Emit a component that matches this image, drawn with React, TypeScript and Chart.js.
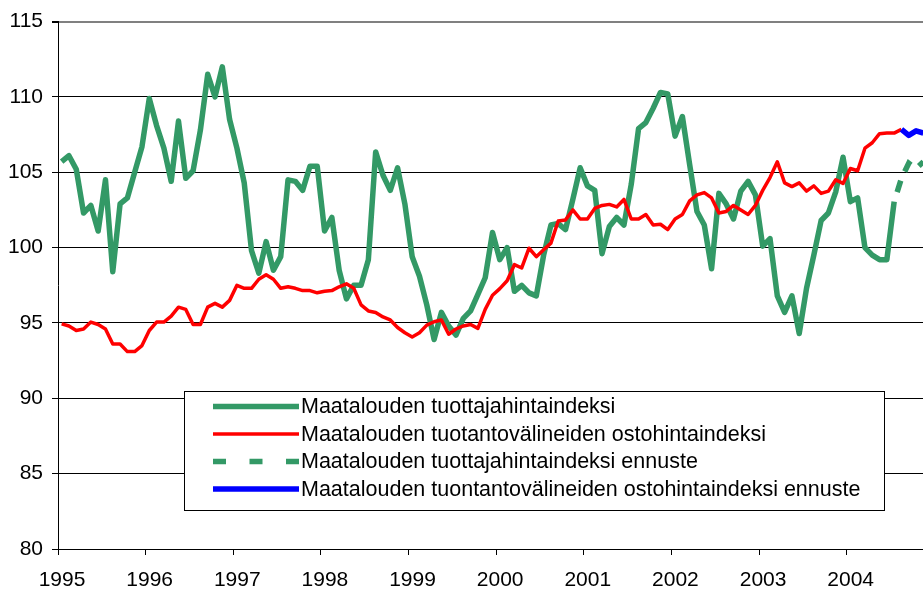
import React, { useEffect, useRef } from "react";
import { Chart, registerables } from "chart.js";

Chart.register(...registerables);

// Year tick labels (one every 12 months, starting Jan 1995)
const yearLabels = ["1995", "1996", "1997", "1998", "1999", "2000", "2001", "2002", "2003", "2004"];

// Y axis range / step
const yMin = 80;
const yMax = 115;
const yStep = 5;

// Monthly values from January 1995
const producerPriceIndex = [
  105.7, 106.1, 105.2, 102.3, 102.8, 101.1, 104.5, 98.4, 102.9, 103.3, 105.0, 106.7,
  109.9, 108.1, 106.6, 104.4, 108.4, 104.6, 105.1, 107.8, 111.5, 110.0, 112.0, 108.5,
  106.6, 104.3, 99.8, 98.3, 100.4, 98.5, 99.4, 104.5, 104.4, 103.8, 105.4, 105.4,
  101.1, 102.0, 98.5, 96.6, 97.5, 97.5, 99.2, 106.35, 104.8, 103.8, 105.3, 102.9,
  99.4, 98.1, 96.2, 93.9, 95.7, 94.8, 94.2, 95.3, 95.8, 96.9, 98.0, 101.0,
  99.2, 100.0, 97.1, 97.5, 97.0, 96.8, 99.5, 101.5, 101.6, 101.2, 103.2, 105.3,
  104.1, 103.8, 99.6, 101.4, 102.0, 101.5, 104.2, 107.9, 108.3, 109.25, 110.3, 110.2,
  107.4, 108.7, 105.5, 102.4, 101.5, 98.6, 103.6, 102.9, 101.9, 103.75, 104.4, 103.5,
  100.1, 100.6, 96.8, 95.7, 96.8, 94.3, 97.3, 99.5, 101.8, 102.3, 103.7, 106.0,
  103.05, 103.3, 100.0, 99.5, 99.2, 99.2, 103.05,
];

const inputPriceIndex = [
  94.94, 94.8, 94.5, 94.6, 95.06, 94.9, 94.6, 93.6, 93.6, 93.1, 93.1, 93.5,
  94.5, 95.06, 95.06, 95.45, 96.05, 95.9, 94.9, 94.9, 96.05, 96.3, 96.05, 96.5,
  97.5, 97.3, 97.3, 97.9, 98.2, 97.9, 97.3, 97.4, 97.3, 97.15, 97.15, 97.0,
  97.1, 97.15, 97.4, 97.6, 97.3, 96.2, 95.8, 95.7, 95.4, 95.2, 94.7, 94.35,
  94.07, 94.35, 94.86, 95.08, 95.2, 94.25, 94.6, 94.8, 94.9, 94.64, 95.9, 96.84,
  97.28, 97.8, 98.87, 98.65, 99.96, 99.4, 99.86, 100.3, 101.77, 101.84, 102.5, 101.9,
  101.9, 102.6, 102.8, 102.87, 102.7, 103.2, 101.9, 101.9, 102.2, 101.5, 101.55, 101.2,
  101.9, 102.2, 103.1, 103.5, 103.65, 103.3, 102.3, 102.4, 102.8, 102.5, 102.2, 102.8,
  103.8, 104.65, 105.7, 104.3, 104.05, 104.3, 103.75, 104.1, 103.6, 103.75, 104.5, 104.26,
  105.25, 105.1, 106.6, 106.96, 107.56, 107.6, 107.6, 107.85,
];

// Forecasts (month index of first value, then values)
const producerForecastStart = 114;
const producerForecast = [103.05, 104.6, 105.6, 105.25, 105.7];
const inputForecastStart = 115;
const inputForecast = [107.85, 107.45, 107.75, 107.6];

const seriesLabels = [
  "Maatalouden tuottajahintaindeksi",
  "Maatalouden tuotantovälineiden ostohintaindeksi",
  "Maatalouden tuottajahintaindeksi ennuste",
  "Maatalouden tuontantovälineiden ostohintaindeksi ennuste",
];

const GREEN = "#339966";
const RED = "#FF0000";
const BLUE = "#0000FF";
const FONT = "'Liberation Sans', Arial, Helvetica, sans-serif";

const toPoints = (vals: number[], start = 0) => vals.map((v, i) => ({ x: start + i, y: v }));

const boxLegend = {
  id: "boxLegend",
  afterDraw(chart: any) {
    const ctx = chart.ctx as CanvasRenderingContext2D;
    ctx.save();
    const bx = 184.5;
    const by = 391.5;
    const bw = 700;
    const bh = 119;
    ctx.fillStyle = "#ffffff";
    ctx.fillRect(bx, by, bw, bh);
    ctx.strokeStyle = "#000000";
    ctx.lineWidth = 1;
    ctx.strokeRect(bx, by, bw, bh);
    const rowStart = 406.5;
    const rowStep = 27.5;
    const lineX0 = 213;
    const lineX1 = 299;
    chart.data.datasets.forEach((ds: any, i: number) => {
      const y = rowStart + i * rowStep;
      ctx.save();
      ctx.strokeStyle = ds.borderColor;
      ctx.lineWidth = ds.borderWidth;
      ctx.lineCap = "butt";
      ctx.setLineDash(ds.borderDash && ds.borderDash.length ? [13, 23.5] : []);
      ctx.beginPath();
      ctx.moveTo(lineX0, y);
      ctx.lineTo(lineX1, y);
      ctx.stroke();
      ctx.restore();
      ctx.fillStyle = "#000000";
      ctx.font = `21.5px ${FONT}`;
      ctx.textBaseline = "middle";
      ctx.textAlign = "left";
      ctx.fillText(ds.label, 301, y + 1);
    });
    ctx.restore();
  },
};

export default function App() {
  const canvasRef = useRef<HTMLCanvasElement | null>(null);

  useEffect(() => {
    const canvas = canvasRef.current;
    if (!canvas) return;
    const chart = new Chart(canvas, {
      type: "line",
      data: {
        datasets: [
          {
            label: seriesLabels[0],
            data: toPoints(producerPriceIndex),
            borderColor: GREEN,
            backgroundColor: GREEN,
            borderWidth: 5.5,
            pointRadius: 0,
            tension: 0,
            borderJoinStyle: "round",
            order: 4,
          },
          {
            label: seriesLabels[1],
            data: toPoints(inputPriceIndex),
            borderColor: RED,
            backgroundColor: RED,
            borderWidth: 3.5,
            pointRadius: 0,
            tension: 0,
            borderJoinStyle: "round",
            order: 3,
          },
          {
            label: seriesLabels[2],
            data: toPoints(producerForecast, producerForecastStart),
            borderColor: GREEN,
            backgroundColor: GREEN,
            borderWidth: 5.5,
            borderDash: [12, 10],
            borderDashOffset: 12,
            pointRadius: 0,
            tension: 0,
            order: 2,
          },
          {
            label: seriesLabels[3],
            data: toPoints(inputForecast, inputForecastStart),
            borderColor: BLUE,
            backgroundColor: BLUE,
            borderWidth: 5.5,
            pointRadius: 0,
            tension: 0,
            borderJoinStyle: "round",
            order: 1,
          },
        ],
      },
      options: {
        responsive: false,
        maintainAspectRatio: false,
        animation: false,
        devicePixelRatio: 1,
        layout: { padding: { top: 19, left: 0, right: 0, bottom: 0 } },
        plugins: {
          legend: { display: false },
          tooltip: { enabled: false },
          title: { display: false },
        },
        scales: {
          x: {
            type: "linear",
            min: -0.5,
            max: 117.95,
            afterBuildTicks: (scale: any) => {
              scale.ticks = yearLabels.map((_, k) => ({ value: -0.5 + 12 * k }));
            },
            afterFit: (scale: any) => {
              scale.height = 43;
            },
            ticks: {
              autoSkip: false,
              maxRotation: 0,
              minRotation: 0,
              padding: 13,
              labelOffset: 4,
              color: "#000000",
              font: { family: FONT, size: 21 },
              callback: (_v: any, index: number) => yearLabels[index],
            },
            grid: {
              drawOnChartArea: false,
              drawTicks: true,
              tickLength: 6,
              color: "#000000",
              tickColor: "#000000",
            },
            border: { display: true, color: "#000000", width: 1 },
          },
          y: {
            type: "linear",
            min: yMin,
            max: yMax,
            afterFit: (scale: any) => {
              scale.width = 58;
            },
            ticks: {
              stepSize: yStep,
              padding: 9,
              color: "#000000",
              font: { family: FONT, size: 21 },
            },
            grid: {
              drawTicks: true,
              tickLength: 6,
              tickColor: "#000000",
              color: (ctx: any) => (ctx.tick && ctx.tick.value === yMax ? "#808080" : "#000000"),
              lineWidth: (ctx: any) => (ctx.tick && ctx.tick.value === yMax ? 2 : 1),
            },
            border: { display: true, color: "#000000", width: 1 },
          },
        },
      },
      plugins: [boxLegend],
    } as any);
    return () => chart.destroy();
  }, []);

  return (
    <div style={{ position: "fixed", left: 0, top: 0, width: 923, height: 592, background: "#ffffff" }}>
      <canvas ref={canvasRef} width={923} height={592} style={{ display: "block" }} />
    </div>
  );
}
